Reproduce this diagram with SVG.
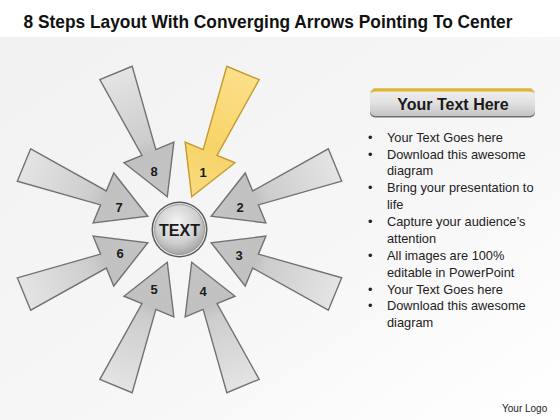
<svg xmlns="http://www.w3.org/2000/svg" width="560" height="420" viewBox="0 0 560 420">
<defs>
  <linearGradient id="bg" x1="0" y1="0" x2="1" y2="1">
    <stop offset="0" stop-color="#f1f1f1"/>
    <stop offset="0.6" stop-color="#f7f7f7"/>
    <stop offset="1" stop-color="#ffffff"/>
  </linearGradient>
  <linearGradient id="gGray" gradientUnits="userSpaceOnUse" x1="0" y1="0" x2="134" y2="0">
    <stop offset="0" stop-color="#e4e4e4"/>
    <stop offset="0.55" stop-color="#cdcdcd"/>
    <stop offset="0.65" stop-color="#c1c1c1"/>
    <stop offset="1" stop-color="#c4c4c4"/>
  </linearGradient>
  <linearGradient id="gGold" gradientUnits="userSpaceOnUse" x1="0" y1="0" x2="134" y2="0">
    <stop offset="0" stop-color="#fbe08a"/>
    <stop offset="0.55" stop-color="#f8d56a"/>
    <stop offset="0.65" stop-color="#f7d46c"/>
    <stop offset="1" stop-color="#f9db80"/>
  </linearGradient>
  <radialGradient id="gBall" cx="0.45" cy="0.35" r="0.7">
    <stop offset="0" stop-color="#f4f4f4"/>
    <stop offset="0.6" stop-color="#cfcfcf"/>
    <stop offset="1" stop-color="#9c9c9c"/>
  </radialGradient>
  <linearGradient id="gBox" x1="0" y1="0" x2="0" y2="1">
    <stop offset="0" stop-color="#f0f0f0"/>
    <stop offset="0.5" stop-color="#e2e2e2"/>
    <stop offset="1" stop-color="#c4c4c4"/>
  </linearGradient>
  <path id="arr" d="M0,-17.5 L86,-7.5 L86,-27 L134,0 L86,27 L86,7.5 L0,17.5 Z"/>
  <style>
    .ga { fill: url(#gGray); stroke: #727272; stroke-width: 1.4; stroke-linejoin: miter; }
    .ya { fill: url(#gGold); stroke: #c49a2c; stroke-width: 1.4; }
    .num { font-family: "Liberation Sans", Arial, sans-serif; font-weight: bold; font-size: 13px; fill: #1a1a1a; text-anchor: middle; }
    .bul { font-family: "Liberation Sans", Arial, sans-serif; font-size: 12.8px; fill: #222; }
  </style>
</defs>
<rect x="0" y="0" width="560" height="420" fill="#ffffff"/>
<rect x="0" y="37" width="560" height="383" fill="url(#bg)"/>

<text x="268" y="28" font-family="'Liberation Sans', Arial, sans-serif" font-weight="bold" font-size="19" fill="#111" text-anchor="middle" textLength="489" lengthAdjust="spacingAndGlyphs">8 Steps Layout With Converging Arrows Pointing To Center</text>

<g id="connectors"/>

<g id="arrow1"><use href="#arr" class="ya" transform="translate(243,73) rotate(112.5)"/><text class="num" x="203" y="177">1</text></g>
<g id="arrow2"><use href="#arr" class="ga" transform="translate(335,165) rotate(157.5)"/><text class="num" x="240" y="212">2</text></g>
<g id="arrow3"><use href="#arr" class="ga" transform="translate(335,294) rotate(-157.5)"/><text class="num" x="239" y="260">3</text></g>
<g id="arrow4"><use href="#arr" class="ga" transform="translate(243,386) rotate(-112.5)"/><text class="num" x="203" y="296">4</text></g>
<g id="arrow5"><use href="#arr" class="ga" transform="translate(116,386) rotate(-67.5)"/><text class="num" x="154" y="294">5</text></g>
<g id="arrow6"><use href="#arr" class="ga" transform="translate(24,294) rotate(-22.5)"/><text class="num" x="120" y="258">6</text></g>
<g id="arrow7"><use href="#arr" class="ga" transform="translate(24,165) rotate(22.5)"/><text class="num" x="119" y="212">7</text></g>
<g id="arrow8"><use href="#arr" class="ga" transform="translate(116,73) rotate(67.5)"/><text class="num" x="154" y="176">8</text></g>

<g id="center">
  <circle cx="179.5" cy="229.5" r="28" fill="#5a5a5a"/>
  <circle cx="179.5" cy="229.5" r="26.5" fill="#e8e8e8"/>
  <circle cx="179.5" cy="229.5" r="25" fill="url(#gBall)" stroke="#8a8a8a" stroke-width="0.8"/>
  <text x="179.5" y="235.5" font-family="'Liberation Sans', Arial, sans-serif" font-weight="bold" font-size="16" fill="#1a1a1a" text-anchor="middle">TEXT</text>
</g>

<g id="titlebox">
  <rect x="370" y="88.5" width="165" height="29" rx="5" fill="#6e6e6e"/>
  <rect x="370" y="88.5" width="165" height="27.5" rx="5" fill="url(#gBox)"/>
  <path d="M371,94 Q371,88.5 376,88.5 L529,88.5 Q534,88.5 534,94 Q534,91.5 529,91.5 L376,91.5 Q371,91.5 371,94 Z" fill="#e4b52a"/>
  <text x="453" y="110" font-family="'Liberation Sans', Arial, sans-serif" font-weight="bold" font-size="16" fill="#1a1a1a" text-anchor="middle">Your Text Here</text>
</g>

<g id="bullets">
  <text class="bul" x="368" y="141.5">•</text><text class="bul" x="387" y="141.5">Your Text Goes here</text>
  <text class="bul" x="368" y="158.5">•</text><text class="bul" x="387" y="158.5">Download this awesome</text>
  <text class="bul" x="387" y="175">diagram</text>
  <text class="bul" x="368" y="192">•</text><text class="bul" x="387" y="192">Bring your presentation to</text>
  <text class="bul" x="387" y="209">life</text>
  <text class="bul" x="368" y="226">•</text><text class="bul" x="387" y="226">Capture your audience’s</text>
  <text class="bul" x="387" y="242.5">attention</text>
  <text class="bul" x="368" y="259.5">•</text><text class="bul" x="387" y="259.5">All images are 100%</text>
  <text class="bul" x="387" y="276.5">editable in PowerPoint</text>
  <text class="bul" x="368" y="293.5">•</text><text class="bul" x="387" y="293.5">Your Text Goes here</text>
  <text class="bul" x="368" y="310">•</text><text class="bul" x="387" y="310">Download this awesome</text>
  <text class="bul" x="387" y="326.5">diagram</text>
</g>

<text x="502" y="412" font-family="'Liberation Sans', Arial, sans-serif" font-size="10" fill="#222">Your Logo</text>
</svg>
